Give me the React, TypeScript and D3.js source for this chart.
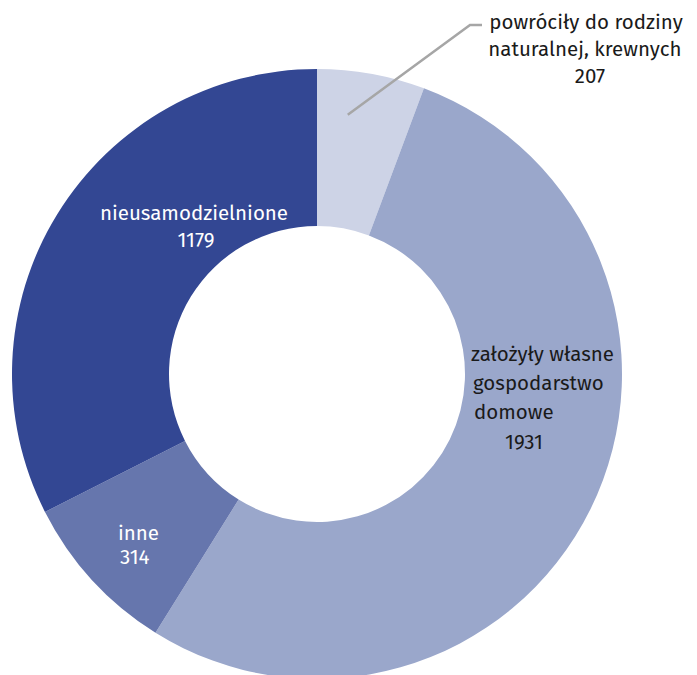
import React from "react";
import * as d3 from "d3";

const categories = [
  "powróciły do rodziny naturalnej, krewnych",
  "założyły własne gospodarstwo domowe",
  "inne",
  "nieusamodzielnione",
];
const values = [207, 1931, 314, 1179];
const colors = ["#cdd3e6", "#9aa7cb", "#6676ad", "#334793"];

const W = 697;
const H = 675;
const CX = 317;
const CY = 374;
const R_OUT = 305;
const R_IN = 148;
const FONT = "'Fira Sans', 'Noto Sans', 'Open Sans', sans-serif";

export default function App() {
  const pie = d3
    .pie<number>()
    .sort(null)
    .value((d) => d)
    .startAngle(0)
    .endAngle(2 * Math.PI);
  const arcs = pie(values);
  const arc = d3.arc<d3.PieArcDatum<number>>().innerRadius(R_IN).outerRadius(R_OUT);

  // leader for first slice
  const a0 = arcs[0];
  const ang = a0.startAngle + (a0.endAngle - a0.startAngle) * 0.33;
  const rStart = 261;
  const p0: [number, number] = [CX + Math.sin(ang) * rStart, CY - Math.cos(ang) * rStart];
  const leader = d3.line()([p0, [470, 25], [482, 25]]);

  const fs = 20.5;
  return (
    <svg
      width={W}
      height={H}
      style={{ position: "absolute", left: 0, top: 0 }}
      fontFamily={FONT}
    >
      <g transform={`translate(${CX},${CY})`}>
        {arcs.map((a, i) => (
          <path key={categories[i]} d={arc(a) || ""} fill={colors[i]} />
        ))}
      </g>
      <path d={leader || ""} fill="none" stroke="#a6a6a6" strokeWidth={2.5} />
      <g fontSize={fs} fill="#1a1a1a" textAnchor="middle">
        <text x={586} y={29}>powróciły do rodziny</text>
        <text x={585} y={56}>naturalnej, krewnych</text>
        <text x={590} y={83}>{values[0]}</text>
      </g>
      <g fontSize={fs} fill="#1a1a1a">
        <text x={471} y={361}>założyły własne</text>
        <text x={473} y={390}>gospodarstwo</text>
        <text x={474} y={419}>domowe</text>
        <text x={505} y={449}>{values[1]}</text>
      </g>
      <g fontSize={fs} fill="#ffffff">
        <text x={118} y={540}>{categories[2]}</text>
        <text x={120} y={564}>{values[2]}</text>
      </g>
      <g fontSize={fs} fill="#ffffff" textAnchor="middle">
        <text x={194} y={220}>{categories[3]}</text>
        <text x={196} y={247}>{values[3]}</text>
      </g>
    </svg>
  );
}
